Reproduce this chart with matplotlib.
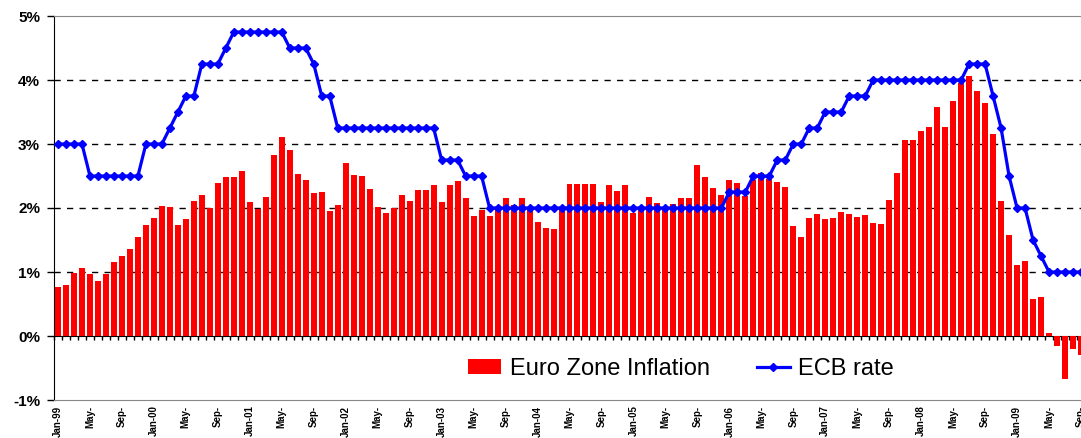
import numpy as np
import matplotlib.pyplot as plt

plt.rcParams['font.family'] = ['Liberation Sans', 'DejaVu Sans']

# monthly values, Jan-99 .. Sep-09
years = ['99', '00', '01', '02', '03', '04', '05', '06', '07', '08', '09']
inflation = [
    0.77, 0.79, 0.99, 1.07, 0.97, 0.86, 0.97, 1.16, 1.25, 1.36, 1.55, 1.73,
    1.84, 2.03, 2.02, 1.73, 1.83, 2.11, 2.20, 2.00, 2.39, 2.48, 2.48, 2.58,
    2.09, 1.99, 2.17, 2.83, 3.11, 2.91, 2.53, 2.44, 2.23, 2.25, 1.95, 2.05,
    2.70, 2.52, 2.50, 2.30, 2.02, 1.92, 2.00, 2.20, 2.11, 2.28, 2.28, 2.36,
    2.09, 2.36, 2.42, 2.16, 1.88, 1.97, 1.88, 1.98, 2.16, 2.05, 2.16, 1.97,
    1.78, 1.69, 1.67, 2.00, 2.38, 2.38, 2.38, 2.38, 2.09, 2.36, 2.27, 2.36,
    1.92, 2.02, 2.17, 2.08, 2.00, 2.06, 2.16, 2.15, 2.67, 2.48, 2.31, 2.20,
    2.44, 2.39, 2.19, 2.44, 2.55, 2.45, 2.41, 2.33, 1.72, 1.55, 1.84, 1.91,
    1.83, 1.84, 1.94, 1.91, 1.86, 1.89, 1.77, 1.75, 2.12, 2.55, 3.06, 3.06,
    3.20, 3.27, 3.58, 3.27, 3.67, 3.95, 4.06, 3.83, 3.64, 3.16, 2.11, 1.58,
    1.11, 1.17, 0.58, 0.61, 0.05, -0.15, -0.67, -0.21, -0.30,
]
ecb_rate = [
    3.00, 3.00, 3.00, 3.00, 2.50, 2.50, 2.50, 2.50, 2.50, 2.50, 2.50, 3.00,
    3.00, 3.00, 3.25, 3.50, 3.75, 3.75, 4.25, 4.25, 4.25, 4.50, 4.75, 4.75,
    4.75, 4.75, 4.75, 4.75, 4.75, 4.50, 4.50, 4.50, 4.25, 3.75, 3.75, 3.25,
    3.25, 3.25, 3.25, 3.25, 3.25, 3.25, 3.25, 3.25, 3.25, 3.25, 3.25, 3.25,
    2.75, 2.75, 2.75, 2.50, 2.50, 2.50, 2.00, 2.00, 2.00, 2.00, 2.00, 2.00,
    2.00, 2.00, 2.00, 2.00, 2.00, 2.00, 2.00, 2.00, 2.00, 2.00, 2.00, 2.00,
    2.00, 2.00, 2.00, 2.00, 2.00, 2.00, 2.00, 2.00, 2.00, 2.00, 2.00, 2.00,
    2.25, 2.25, 2.25, 2.50, 2.50, 2.50, 2.75, 2.75, 3.00, 3.00, 3.25, 3.25,
    3.50, 3.50, 3.50, 3.75, 3.75, 3.75, 4.00, 4.00, 4.00, 4.00, 4.00, 4.00,
    4.00, 4.00, 4.00, 4.00, 4.00, 4.00, 4.25, 4.25, 4.25, 3.75, 3.25, 2.50,
    2.00, 2.00, 1.50, 1.25, 1.00, 1.00, 1.00, 1.00, 1.00,
]
y_ticks = [-1, 0, 1, 2, 3, 4, 5]


def month_labels(n):
    labels = []
    for i in range(0, n, 4):
        m = i % 12
        if m == 0:
            labels.append('Jan-' + years[i // 12])
        elif m == 4:
            labels.append('May-')
        else:
            labels.append('Sep-')
    return labels


n = len(inflation)
x = np.arange(n)

fig = plt.figure(figsize=(10.81, 4.38), dpi=100)
ax = fig.add_axes([54 / 1081, 1 - 400 / 438, 1 - 54 / 1081, 384 / 438])

# dashed grid only on the inner lines
for v in [1, 2, 3, 4]:
    ax.axhline(v, color='black', lw=1, dashes=(4.5, 4.5), zorder=1)

bars = ax.bar(x, inflation, width=0.75, color='#ff0000', zorder=2,
              label='Euro Zone Inflation')
line, = ax.plot(x, ecb_rate, color='#0000ff', lw=2.3, marker='D', ms=4.2,
                zorder=3, label='ECB rate')

ax.set_xlim(-0.5, 127.9)
ax.set_ylim(-1, 5)
ax.set_yticks(y_ticks)
ax.set_yticklabels([f'{v}%' for v in y_ticks], fontsize=11, fontweight='bold')
ax.tick_params(axis='y', length=5, width=1, pad=5)

ax.set_xticks(x[::4])
ax.set_xticklabels(month_labels(n), rotation=90, fontsize=7,
                   fontweight='bold', va='top')
ax.tick_params(axis='x', length=0, pad=4)

ax.spines['left'].set_color('black')
for s in ['top', 'bottom']:
    ax.spines[s].set_color('#888888')
ax.spines['right'].set_visible(False)

# category axis crossing at 0%
sec = ax.secondary_xaxis(1 / 6)
sec.set_xticks(np.arange(-0.5, n, 1))
sec.set_xticklabels([])
sec.tick_params(length=3, width=1, direction='out')
sec.spines['bottom'].set_color('black')

fig.legend([bars, line], ['Euro Zone Inflation', 'ECB rate'],
           loc='center left', bbox_to_anchor=(447 / 1081, 1 - 369 / 438),
           ncol=2, frameon=False, fontsize=17, handlelength=1.4,
           handleheight=0.6, columnspacing=2.0, handletextpad=0.35)

plt.savefig('out.png', dpi=100)
